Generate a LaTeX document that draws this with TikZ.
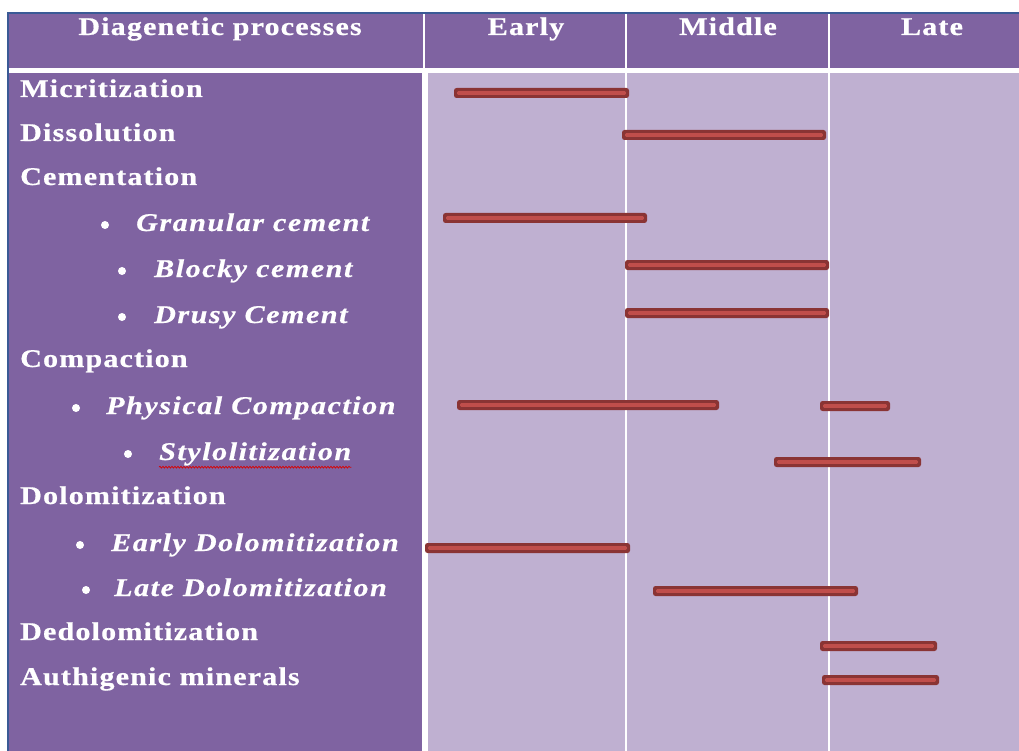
\documentclass[tikz,border=0pt]{standalone}
\usepackage{fontspec}
\setmainfont{Liberation Serif}
\newfontfamily\lblfont[LetterSpace=4.5,FakeStretch=1.18,FakeBold=0.6]{Liberation Serif}
\newfontfamily\itfont[LetterSpace=6,FakeStretch=1.18,FakeBold=0.6]{Liberation Serif}
\usetikzlibrary{decorations.pathmorphing,calc}
\definecolor{hdrpurple}{RGB}{127,99,161}
\definecolor{lilac}{RGB}{191,176,209}
\definecolor{borderblue}{RGB}{58,90,150}
\definecolor{barout}{RGB}{138,52,52}
\definecolor{barin}{RGB}{192,78,75}
\tikzset{
  hdr/.style={text=white, font=\lblfont\fontsize{25.5}{30}\selectfont\bfseries, anchor=base, inner sep=0pt},
  lbl/.style={text=white, font=\lblfont\fontsize{25.5}{30}\selectfont\bfseries, anchor=base west, inner sep=0pt},
  sub/.style={text=white, font=\itfont\fontsize{25.5}{30}\selectfont\bfseries\itshape, anchor=base west, inner sep=0pt},
  bul/.style={circle, fill=white, inner sep=0pt, minimum size=8pt},
}
\newcommand{\gantbar}[3]{%
  \fill[barout, rounded corners=2.5pt] (#1,#3-5) rectangle (#2,#3+5);
  \fill[barin, rounded corners=1pt] (#1+3.2,#3-1.8) rectangle (#2-3.2,#3+1.8);
}
\begin{document}
\begin{tikzpicture}[x=1pt,y=-1pt]
\useasboundingbox (0,0) rectangle (1019,751);
\fill[white] (0,0) rectangle (1019,751);
% header
\fill[hdrpurple] (8,13) rectangle (1019,68);
% body
\fill[white] (8,68) rectangle (1019,751);
\fill[hdrpurple] (8,73) rectangle (422,751);
\fill[lilac] (428,73) rectangle (1019,751);
% column dividers
\draw[white, line width=1.8pt] (424,14) -- (424,68);
\draw[white, line width=1.8pt] (626,14) -- (626,751);
\draw[white, line width=1.8pt] (829,14) -- (829,751);
% border
\draw[borderblue, line width=2pt] (8,751) -- (8,13) -- (1019,13);
% header text
\node[hdr] (hdp) at (220,35) {Diagenetic processes};
\node[hdr] (hearly) at (526,35) {Early};
\node[hdr] (hmid) at (728,35) {Middle};
\node[hdr] (hlate) at (932,35) {Late};
% labels
\node[lbl] (micr) at (20,97) {Micritization};
\node[lbl] (diss) at (20,141) {Dissolution};
\node[lbl] (cem) at (20,185) {Cementation};
\node[bul] (b1) at (105,225) {}; \node[sub] (gran) at (136,231) {Granular cement};
\node[bul] (b2) at (122,271) {}; \node[sub] (block) at (154,277) {Blocky cement};
\node[bul] (b3) at (122,317) {}; \node[sub] (drusy) at (154,323) {Drusy Cement};
\node[lbl] (comp) at (20,367) {Compaction};
\node[bul] (b4) at (76,408) {}; \node[sub] (phys) at (106,414) {Physical Compaction};
\node[bul] (b5) at (128,454) {}; \node[sub] (stylo) at (159,460) {Stylolitization};
\draw[red!85!black, line width=0.7pt, decorate, decoration={snake, amplitude=0.9pt, segment length=3pt}] ($(stylo.south west)+(0,1.5)$) -- ($(stylo.south east)+(0,1.5)$);
\node[lbl] (dolo) at (20,504) {Dolomitization};
\node[bul] (b6) at (80,545) {}; \node[sub] (edolo) at (111,551) {Early Dolomitization};
\node[bul] (b7) at (86,590) {}; \node[sub] (ldolo) at (114,596) {Late Dolomitization};
\node[lbl] (dedolo) at (20,640) {Dedolomitization};
\node[lbl] (auth) at (20,685) {Authigenic\ minerals};
% bars
\gantbar{454}{629}{93}
\gantbar{622}{826}{135}
\gantbar{443}{647}{218}
\gantbar{625}{829}{265}
\gantbar{625}{829}{313}
\gantbar{457}{719}{405}
\gantbar{820}{890}{406}
\gantbar{774}{921}{462}
\gantbar{425}{630}{548}
\gantbar{653}{858}{591}
\gantbar{820}{937}{646}
\gantbar{822}{939}{680}
\end{tikzpicture}
\end{document}
